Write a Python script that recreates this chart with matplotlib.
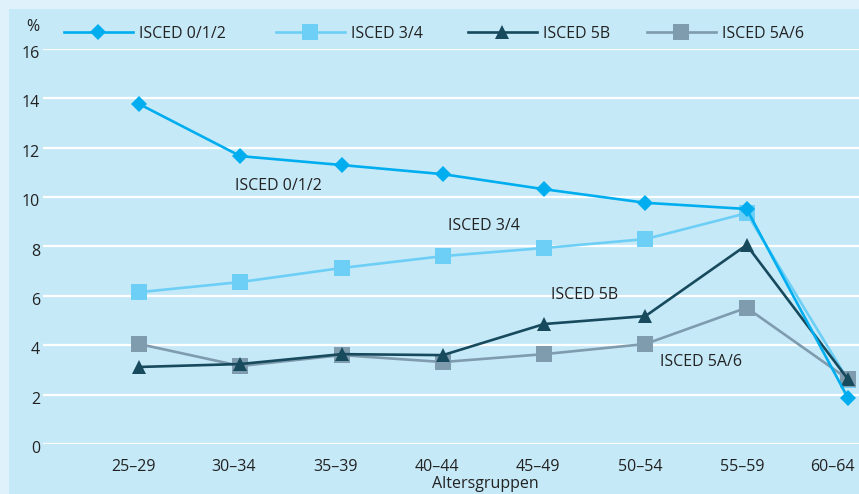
import matplotlib
matplotlib.use('Agg')
import matplotlib.pyplot as plt
from matplotlib.patches import Rectangle
from matplotlib.transforms import ScaledTranslation

plt.rcParams['font.family'] = ['Open Sans', 'DejaVu Sans']

altersgruppen = ['25–29', '30–34', '35–39', '40–44', '45–49', '50–54', '55–59', '60–64']
isced_012 = [13.77, 11.66, 11.30, 10.93, 10.32, 9.77, 9.52, 1.87]
isced_34 = [6.15, 6.56, 7.13, 7.61, 7.94, 8.30, 9.35, 2.60]
isced_5b = [3.12, 3.24, 3.64, 3.60, 4.86, 5.18, 8.06, 2.63]
isced_5a6 = [4.05, 3.16, 3.60, 3.32, 3.64, 4.05, 5.52, 2.63]

# Name, Werte, Farbe, Marker, Markergroesse, Zeichenreihenfolge
serien = [
    ('ISCED 0/1/2', isced_012, '#00aeef', 'D', 8.5, 3.3),
    ('ISCED 3/4', isced_34, '#6dcff6', 's', 11, 3.0),
    ('ISCED 5B', isced_5b, '#164a5c', '^', 10.5, 3.2),
    ('ISCED 5A/6', isced_5a6, '#7f9bae', 's', 11, 3.1),
]
# Beschriftungen direkt an den Linien
beschriftungen = [
    ('ISCED 0/1/2', 0.95, 10.45),
    ('ISCED 3/4', 3.05, 8.83),
    ('ISCED 5B', 4.07, 6.03),
    ('ISCED 5A/6', 5.14, 3.32),
]
# linker Rand der Legendeneintraege (Pixel)
legende_x = [64, 276, 468, 647]

W, H = 859, 494
fs = 11.5
fig = plt.figure(figsize=(W / 100, H / 100), dpi=100)
fig.patch.set_facecolor('#dff2fb')
fig.patches.append(Rectangle((9 / W, 0), 1 - 9 / W, 1 - 9 / H, transform=fig.transFigure,
                             facecolor='#c6e9f8', edgecolor='none', zorder=-5))

ax = fig.add_axes([43 / W, 50 / H, 1 - 43 / W, 395 / H])
ax.set_facecolor('none')
x = list(range(len(altersgruppen)))

handles = []
for name, werte, farbe, marker, ms, z in serien:
    h, = ax.plot(x, werte, color=farbe, lw=1.9, marker=marker, markersize=ms,
                 markeredgewidth=0, label=name, clip_on=False, zorder=z)
    handles.append(h)

for text, tx, ty in beschriftungen:
    ax.text(tx, ty, text, fontsize=fs, color='#222222', ha='left', va='center')

ax.set_xlim(-0.95, 7.11)
ax.set_ylim(0, 16)
ax.set_yticks(range(0, 17, 2))
ax.grid(axis='y', color='white', lw=1.6)
ax.set_axisbelow(True)
for s in ax.spines.values():
    s.set_visible(False)
ax.tick_params(length=0, labelsize=fs, labelcolor='#222222')
ax.tick_params(axis='y', pad=2)
ax.tick_params(axis='x', pad=11)
ax.set_xticks(x)
ax.set_xticklabels(altersgruppen)
verschiebung = [-6, -7, -6, -6, -6, -5, -4, -15]
for lbl, dx in zip(ax.get_xticklabels(), verschiebung):
    lbl.set_transform(lbl.get_transform() + ScaledTranslation(dx / 100, 0, fig.dpi_scale_trans))
for lbl in ax.get_yticklabels():
    lbl.set_transform(lbl.get_transform() + ScaledTranslation(0, -3 / 100, fig.dpi_scale_trans))

fig.text(33 / W, 1 - 27 / H, '%', fontsize=fs, color='#222222', ha='center', va='center')
fig.text(432 / W, 1 - 484 / H, 'Altersgruppen', fontsize=fs, color='#222222', ha='left', va='center')

# je Reihe ein eigener Legendeneintrag, damit die Abstaende stimmen
for h, lx in zip(handles, legende_x):
    fig.legend(handles=[h], loc='center left', bbox_to_anchor=(lx / W, 1 - 34 / H),
               frameon=False, fontsize=fs, handlelength=4.3, handletextpad=0.4,
               borderpad=0, borderaxespad=0, labelcolor='#222222')

fig.savefig('out.png', dpi=100, facecolor=fig.get_facecolor())
